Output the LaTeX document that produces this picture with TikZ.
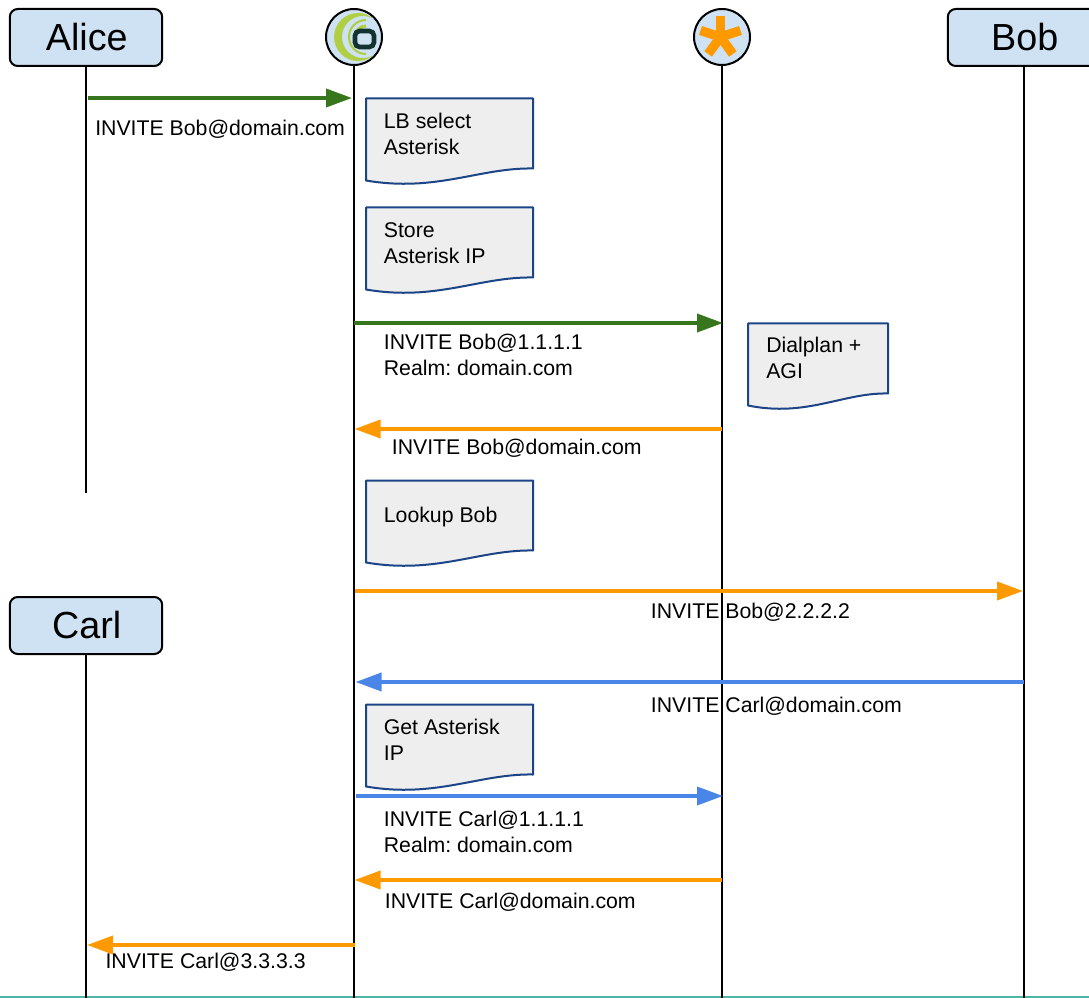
\documentclass[tikz,border=0pt]{standalone}
\usepackage{fontspec}
\setmainfont{Liberation Sans}
\usetikzlibrary{arrows.meta}
\definecolor{hdrfill}{HTML}{CFE2F3}
\definecolor{notefill}{HTML}{EEEEEE}
\definecolor{noteline}{HTML}{1C4587}
\definecolor{gr}{HTML}{38761D}
\definecolor{og}{HTML}{FF9900}
\definecolor{bl}{HTML}{4A86E8}
\definecolor{teal2}{HTML}{4DB6A4}
\definecolor{lime}{HTML}{B0CF45}
\definecolor{darkicon}{HTML}{12332F}
\frenchspacing
\tikzset{
  hdr/.style={draw=black,line width=1.5pt,fill=hdrfill,rounded corners=6pt,minimum width=114.3pt,minimum height=42.75pt,inner sep=0pt,font=\fontsize{28.3}{32}\selectfont},
  life/.style={draw=black,line width=1.5pt},
  msg/.style={line width=2.8pt,-{Triangle[length=19.5pt,width=13.5pt]}},
  lbl/.style={anchor=base west,inner sep=0pt,align=left,font=\fontsize{15.95}{19.5}\selectfont},
  notebox/.style={draw=noteline,line width=1.5pt,fill=notefill,line join=round},
  iconc/.style={draw=black,line width=1.5pt,fill=hdrfill,circle,minimum size=42pt,inner sep=0pt},
}
% #1 left, #2 top, #3 right, #4 straight height
\newcommand{\notedoc}[4]{%
  \draw[notebox] (#1,#2) -- (#3,#2) -- (#3,#2+#4)
   .. controls ({#1+0.68*(#3-#1)},#2+#4-1) and ({#1+0.42*(#3-#1)},#2+#4+24) .. (#1,#2+#4+12) -- cycle;}
\begin{document}
\begin{tikzpicture}[x=0.75pt,y=-0.75pt]
\clip (0,0) rectangle (1089,998);
\fill[white] (0,0) rectangle (1089,998);
\fill[teal2] (0,996) rectangle (1089,998);

\node[hdr] (alice) at (86,37.5) {\kern1.2pt Alice};
\node[hdr] (bob) at (1024,37.5) {\kern1.2pt Bob};
\node[hdr] (carl) at (86,625.5) {\kern1.2pt Carl};
\node[iconc] (lb) at (354,37) {};
\node[iconc] (ast) at (722,37) {};

\coordinate (aliceEnd) at (86,493);
\coordinate (lbEnd) at (354,998);
\coordinate (astEnd) at (722,998);
\coordinate (bobEnd) at (1024,998);
\coordinate (carlEnd) at (86,998);
\draw[life] (alice.south) -- (aliceEnd);
\draw[life] (lb.south) -- (lbEnd);
\draw[life] (ast.south) -- (astEnd);
\draw[life] (bob.south) -- (bobEnd);
\draw[life] (carl.south) -- (carlEnd);

% load balancer icon
\begin{scope}
  \clip (330,0) rectangle (372,80);
  \fill[lime,even odd rule] (358,37) circle (24) (363,37) circle (21);
\end{scope}
\draw[lime,line width=1.6pt] (366,20) arc[start angle=-90,end angle=-270,radius=17];
\draw[lime,line width=2.4pt] (366,26) arc[start angle=-90,end angle=-270,radius=11];
\draw[darkicon,line width=3.5pt,fill=hdrfill,rounded corners=3.5pt] (355,31) rectangle (374,47);

% asterisk icon
\foreach \a in {90,162,234,306,18}
  \draw[og,line width=7pt] (720.5,37) -- ++(-\a:21);

\notedoc{366}{98.5}{533}{70}
\notedoc{366}{207.5}{533}{70}
\notedoc{748}{323.5}{888}{70}
\notedoc{366}{480.5}{533}{70}
\notedoc{366}{704.5}{533}{70}

\node[lbl] (n1) at (383.6,154.3) {LB select\\Asterisk};
\node[lbl] (n2) at (383.6,263.3) {Store\\Asterisk IP};
\node[lbl] (n3) at (766,378.3) {Dialplan +\\AGI};
\node[lbl] (n4) at (383.6,522.3) {Lookup Bob};
\node[lbl] (n5) at (383.6,760.3) {Get Asterisk\\IP};

\coordinate (m1a) at (88,98);   \coordinate (m1b) at (352,98);
\coordinate (m2a) at (354,323); \coordinate (m2b) at (723,323);
\coordinate (m3a) at (722,429); \coordinate (m3b) at (354.5,429);
\coordinate (m4a) at (355,591); \coordinate (m4b) at (1023,591);
\coordinate (m5a) at (1024,682);\coordinate (m5b) at (355.5,682);
\coordinate (m6a) at (356,796); \coordinate (m6b) at (723,796);
\coordinate (m7a) at (722,880); \coordinate (m7b) at (354.5,880);
\coordinate (m8a) at (355,945); \coordinate (m8b) at (87,945);
\draw[msg,gr] (m1a) -- (m1b);
\draw[msg,gr] (m2a) -- (m2b);
\draw[msg,og] (m3a) -- (m3b);
\draw[msg,og] (m4a) -- (m4b);
\draw[msg,bl] (m5a) -- (m5b);
\draw[msg,bl] (m6a) -- (m6b);
\draw[msg,og] (m7a) -- (m7b);
\draw[msg,og] (m8a) -- (m8b);

\node[lbl] (t1) at (95,135.5) {INVITE Bob@domain.com};
\node[lbl] (t2) at (383.6,375.3) {INVITE Bob@1.1.1.1\\Realm: domain.com};
\node[lbl] (t3) at (391.6,454.8) {INVITE Bob@domain.com};
\node[lbl] (t4) at (650.7,618.3) {INVITE Bob@2.2.2.2};
\node[lbl] (t5) at (650.7,712) {INVITE Carl@domain.com};
\node[lbl] (t6) at (383.6,852.3) {INVITE Carl@1.1.1.1\\Realm: domain.com};
\node[lbl] (t7) at (384.6,908.3) {INVITE Carl@domain.com};
\node[lbl] (t8) at (105.3,968) {INVITE Carl@3.3.3.3};
\end{tikzpicture}
\end{document}
